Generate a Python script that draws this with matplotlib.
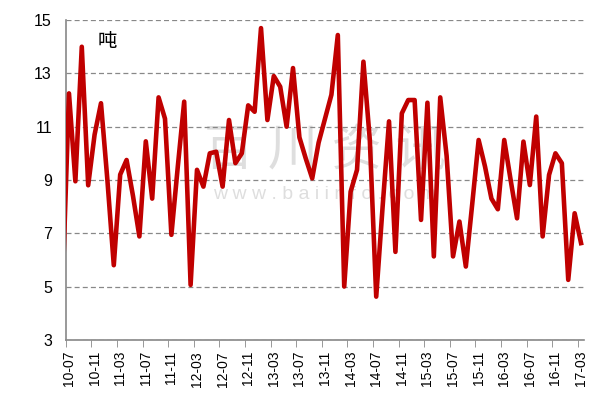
import matplotlib
matplotlib.use("Agg")
import matplotlib.pyplot as plt
import numpy as np
import pandas as pd

plt.rcParams['font.family'] = ['Liberation Sans', 'Noto Sans CJK SC']

# monthly output, 2010-06 .. 2017-03 (first month sits just off the left edge)
months = pd.period_range("2010-06", "2017-03", freq="M")
values = [5.0,
          12.25, 8.95, 14.0, 8.8, 10.7, 11.88, 9.0, 5.8, 9.2, 9.75, 8.4, 6.88,
          10.45, 8.3, 12.1, 11.3, 6.94, 9.5, 11.94, 5.06, 9.38, 8.75, 10.0, 10.06,
          8.75, 11.25, 9.63, 10.0, 11.8, 11.56, 14.7, 11.25, 12.9, 12.5, 11.0, 13.2,
          10.6, 9.8, 9.06, 10.4, 11.3, 12.2, 14.44, 5.0, 8.56, 9.38, 13.44, 10.5,
          4.62, 8.0, 11.2, 6.3, 11.5, 12.0, 12.0, 7.5, 11.9, 6.13, 12.1, 9.9,
          6.13, 7.44, 5.75, 8.1, 10.5, 9.5, 8.3, 7.9, 10.5, 9.0, 7.56, 10.44,
          8.81, 11.38, 6.88, 9.19, 10.0, 9.63, 5.25, 7.75, 6.63]
tick_labels = ["10-07", "10-11", "11-03", "11-07", "11-11", "12-03", "12-07",
               "12-11", "13-03", "13-07", "13-11", "14-03", "14-07", "14-11",
               "15-03", "15-07", "15-11", "16-03", "16-07", "16-11", "17-03"]
y_ticks = [3, 5, 7, 9, 11, 13, 15]

########################################################################

x = np.arange(len(months)) - 1   # 0 = 2010-07

fig = plt.figure(figsize=(5.98, 4.19), dpi=100)
ax = fig.add_axes([0.110, 0.189, 0.867, 0.763])

# watermark
ax.text(0.50, 0.59, "百 川 资 讯", transform=ax.transAxes, fontsize=36,
        color="#dedede", ha="center", va="center", zorder=0)
ax.text(0.50, 0.455, "w w w . b a i i n f o . c o m", transform=ax.transAxes,
        fontsize=14, color="#dedede", ha="center", va="center", zorder=0)

ax.plot(x, values, color="#c00000", lw=3.3, solid_joinstyle="round", zorder=3)

ax.set_xlim(-0.5, 80.5)
ax.set_ylim(3, 15)
ax.set_yticks(y_ticks)
ax.set_yticklabels([str(v) for v in y_ticks], fontsize=11.5)
ax.tick_params(axis="y", length=0, pad=10)
ax.yaxis.grid(True, linestyle=(0, (4, 2.5)), color="#888888", lw=0.9)

ax.set_xticks(np.arange(0, 81, 4))
ax.set_xticklabels(tick_labels, rotation=90, fontsize=10)
ax.set_xticks(np.arange(-0.5, 81, 4), minor=True)
ax.tick_params(axis="x", which="major", length=0, pad=8)
ax.tick_params(axis="x", which="minor", length=5, color="#888888", direction="out")

for side in ("top", "right"):
    ax.spines[side].set_visible(False)
for side in ("left", "bottom"):
    ax.spines[side].set_color("#888888")
    ax.spines[side].set_linewidth(1.2)

ax.text(0.062, 0.93, "吨", transform=ax.transAxes, fontsize=14,
        ha="left", va="center")

fig.savefig("out.png", dpi=100)
